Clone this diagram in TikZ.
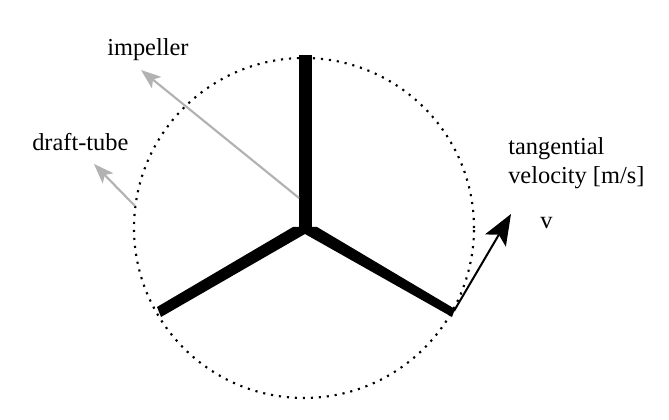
\documentclass[tikz,border=0pt]{standalone}
\usepackage{fontspec}
\setmainfont{Liberation Serif}
\usetikzlibrary{arrows.meta}
\tikzset{
  blade/.style={line width=9.7pt,line cap=butt},
  bladefill/.style={fill=black,draw=none},
  greyarrow/.style={draw=black!30,line width=1.6pt,-{Stealth[length=15pt,width=11pt,inset=3.5pt]}},
  blackarrow/.style={draw=black,line width=1.5pt,-{Stealth[length=23pt,width=18pt,inset=5pt]}},
  lbl/.style={inner sep=0pt,font=\fontsize{18.3pt}{22pt}\selectfont,align=left,anchor=west},
  rim/.style={line width=1.6pt,dash pattern=on 1.6pt off 4.4pt}
}
\begin{document}
\begin{tikzpicture}[x=0.75pt,y=-0.75pt]
\useasboundingbox (0,0) rectangle (669,420);
\fill[white] (0,0) rectangle (669,420);
\coordinate (hub) at (305.5,232);
\coordinate (top) at (305.5,55);
\coordinate (impstart) at (299,198);
\coordinate (impend) at (141,70);
\coordinate (dtstart) at (135,206);
\coordinate (dtend) at (94,164);
\coordinate (vstart) at (454,311);
\coordinate (vend) at (511,214);
\node[circle,draw,rim,minimum size=255pt,inner sep=0pt] (rimc) at (304,228) {};
\draw[blade] (top) -- (hub);
\fill[bladefill] (157,307) -- (293,227) -- (317,227) -- (455,309) -- (452,317) -- (305,234) -- (161,317) -- cycle;
\draw[greyarrow] (impstart) -- (impend);
\draw[greyarrow] (dtstart) -- (dtend);
\draw[blackarrow] (vstart) -- (vend);
\node[lbl] (imp) at (107,50) {impeller};
\node[lbl] (dt) at (32,142) {draft-tube};
\node[lbl] (tv) at (508,163) {tangential\\velocity [m/s]};
\node[lbl] (v) at (540,223) {v};
\end{tikzpicture}
\end{document}
